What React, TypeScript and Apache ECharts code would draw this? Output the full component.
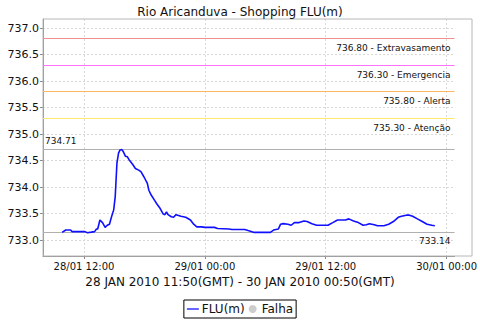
import React, { useEffect, useRef } from "react";
import * as echarts from "echarts";

// hours since 28/01/2010 00:00 (local time)
const hours = [
  9.83, 10.19, 10.67, 10.82, 12.1, 12.34, 12.72, 13.05, 13.24, 13.36, 13.58, 13.84, 14.1, 14.31, 14.53,
  14.72, 14.95, 15.1, 15.27, 15.43, 15.58, 15.74, 15.9, 16.12, 16.31, 16.53, 16.86, 17.1, 17.43, 17.65,
  17.96, 18.29, 18.44, 18.67, 19.01, 19.24, 19.55, 19.87, 20.03, 20.19, 20.34, 20.67, 20.89, 21.14, 21.62,
  22.1, 22.57, 22.89, 23.2, 23.68, 24.0, 24.95, 25.27, 26.38, 26.7, 27.96, 28.29, 28.91, 30.5, 30.82,
  31.3, 31.52, 31.77, 32.25, 32.57, 32.89, 33.36, 33.84, 34.15, 34.63, 35.1, 36.22, 36.7, 37.17, 37.96,
  38.29, 38.76, 39.24, 39.71, 40.03, 40.34, 40.82, 41.14, 41.77, 42.25, 42.72, 43.2, 43.52, 44.0, 44.31,
  44.63, 45.1, 45.58, 46.06, 46.53, 46.83,
];
const levels = [
  733.145, 733.19, 733.19, 733.16, 733.16, 733.14, 733.15, 733.16, 733.21, 733.21, 733.38, 733.33, 733.24, 733.28, 733.3,
  733.43, 733.57, 733.82, 734.45, 734.64, 734.7, 734.71, 734.67, 734.58, 734.57, 734.5, 734.42, 734.35, 734.32, 734.29,
  734.19, 734.07, 733.94, 733.85, 733.75, 733.68, 733.6, 733.49, 733.48, 733.53, 733.48, 733.44, 733.43, 733.48, 733.45,
  733.43, 733.38, 733.3, 733.25, 733.25, 733.24, 733.24, 733.22, 733.21, 733.2, 733.2, 733.18, 733.145, 733.145, 733.19,
  733.21, 733.3, 733.31, 733.3, 733.28, 733.33, 733.33, 733.36, 733.35, 733.31, 733.28, 733.28, 733.33, 733.38, 733.38,
  733.4, 733.36, 733.33, 733.28, 733.29, 733.31, 733.29, 733.27, 733.27, 733.3, 733.35, 733.43, 733.45, 733.47, 733.47,
  733.45, 733.4, 733.35, 733.3, 733.28, 733.27,
];
const thresholdValues = [736.8, 736.3, 735.8, 735.3];
const thresholdNames = ["Extravasamento", "Emergencia", "Alerta", "Atenção"];
const thresholdColors = ["#f09090", "#ff70ff", "#ffb860", "#ffe870"];
const maxLevel = 734.71;
const minLevel = 733.14;
const yTicks = [733.0, 733.5, 734.0, 734.5, 735.0, 735.5, 736.0, 736.5, 737.0];
const xTicks = [12, 24, 36, 48];
const titleText = "Rio Aricanduva - Shopping FLU(m)";
const subtitleText = "28 JAN 2010 11:50(GMT) - 30 JAN 2010 00:50(GMT)";

const FONT = "DejaVu Sans";

function fmtHour(h: number) {
  const day = 28 + Math.floor(h / 24);
  const hh = Math.round(h % 24);
  return `${day}/01 ${String(hh).padStart(2, "0")}:00`;
}

function refSeries(value: number, color: string, text: string, position: string, distance: number[]) {
  return {
    name: "ref-" + value,
    type: "line",
    data: [],
    silent: true,
    z: 3,
    markLine: {
      silent: true,
      symbol: "none",
      lineStyle: { color, type: "solid", width: 1, opacity: 1 },
      label: {
        show: true,
        position,
        formatter: text,
        color: "#111",
        fontSize: 9,
        fontFamily: FONT,
        distance,
      },
      emphasis: { disabled: true },
      data: [{ yAxis: value }],
    },
  };
}

export default function App() {
  const ref = useRef<HTMLDivElement>(null);
  useEffect(() => {
    if (!ref.current) return;
    const chart = echarts.init(ref.current, null, { renderer: "svg" });
    const lineData = hours.map((h, i) => [h, levels[i]]);
    const refs: any[] = thresholdValues.map((v, i) =>
      refSeries(v, thresholdColors[i], `${v.toFixed(2)} - ${thresholdNames[i]}`, "insideEndBottom", [4, 5])
    );
    refs.push(refSeries(maxLevel, "#b0b0b0", maxLevel.toFixed(2), "insideStartTop", [2, 4]));
    refs.push(refSeries(minLevel, "#b0b0b0", minLevel.toFixed(2), "insideEndBottom", [4, 4]));
    chart.setOption({
      animation: false,
      backgroundColor: "#ffffff",
      textStyle: { fontFamily: FONT },
      title: {
        text: titleText,
        left: "center",
        top: 1,
        textStyle: { fontFamily: FONT, fontSize: 12, fontWeight: "normal", color: "#111" },
      },
      graphic: [
        {
          type: "text",
          left: "center",
          top: 276,
          style: { text: subtitleText, fontFamily: FONT, fontSize: 12, fill: "#111" },
        },
        {
          type: "rect",
          shape: { x: 43, y: 19, width: 429, height: 237 },
          style: { fill: "none", stroke: "#b8b8b8", lineWidth: 1 },
          z: 1,
          silent: true,
        },
      ],
      grid: { left: 43, right: 8, top: 19, bottom: 64, containLabel: false },
      legend: {
        bottom: 2,
        left: "center",
        data: [
          { name: "FLU(m)", icon: "path://M0,0 L20,0 L20,2 L0,2 Z" },
          { name: "Falha", icon: "circle" },
        ],
        itemWidth: 12,
        itemHeight: 8,
        itemGap: 4,
        borderColor: "#000",
        borderWidth: 1,
        padding: [3, 3, 3, 3],
        textStyle: { fontFamily: FONT, fontSize: 12, color: "#111", padding: [0, 0, 0, -2] },
      },
      xAxis: {
        type: "value",
        min: 7.93,
        max: 48.79,
        axisLine: { show: true, lineStyle: { color: "#888", width: 1 } },
        axisTick: { show: true, length: 3, customValues: xTicks, lineStyle: { color: "#888" } },
        axisLabel: {
          customValues: xTicks,
          formatter: (v: number) => fmtHour(v),
          fontSize: 10,
          color: "#111",
          fontFamily: FONT,
          margin: 5,
        },
        splitLine: { show: true, lineStyle: { color: "#d8d8d8", type: [2, 2] } },
      },
      yAxis: {
        type: "value",
        min: 732.7,
        max: 737.17,
        axisLine: { show: true, lineStyle: { color: "#888", width: 1 } },
        axisTick: { show: true, length: 3, customValues: yTicks, lineStyle: { color: "#888" } },
        axisLabel: {
          customValues: yTicks,
          formatter: (v: number) => v.toFixed(1),
          fontSize: 11,
          color: "#111",
          fontFamily: FONT,
          margin: 4,
        },
        splitLine: { show: true, lineStyle: { color: "#d8d8d8", type: [2, 2] } },
      },
      series: [
        ...refs,
        {
          name: "FLU(m)",
          type: "line",
          data: lineData,
          symbol: "none",
          color: "#0000ff",
          lineStyle: { color: "#1010ff", width: 1.6 },
          z: 5,
        },
        {
          name: "Falha",
          type: "scatter",
          data: [],
          color: "#c0c0c0",
        },
      ],
    });
    return () => chart.dispose();
  }, []);
  return <div ref={ref} style={{ width: 480, height: 320, position: "absolute", left: 0, top: 0 }} />;
}
